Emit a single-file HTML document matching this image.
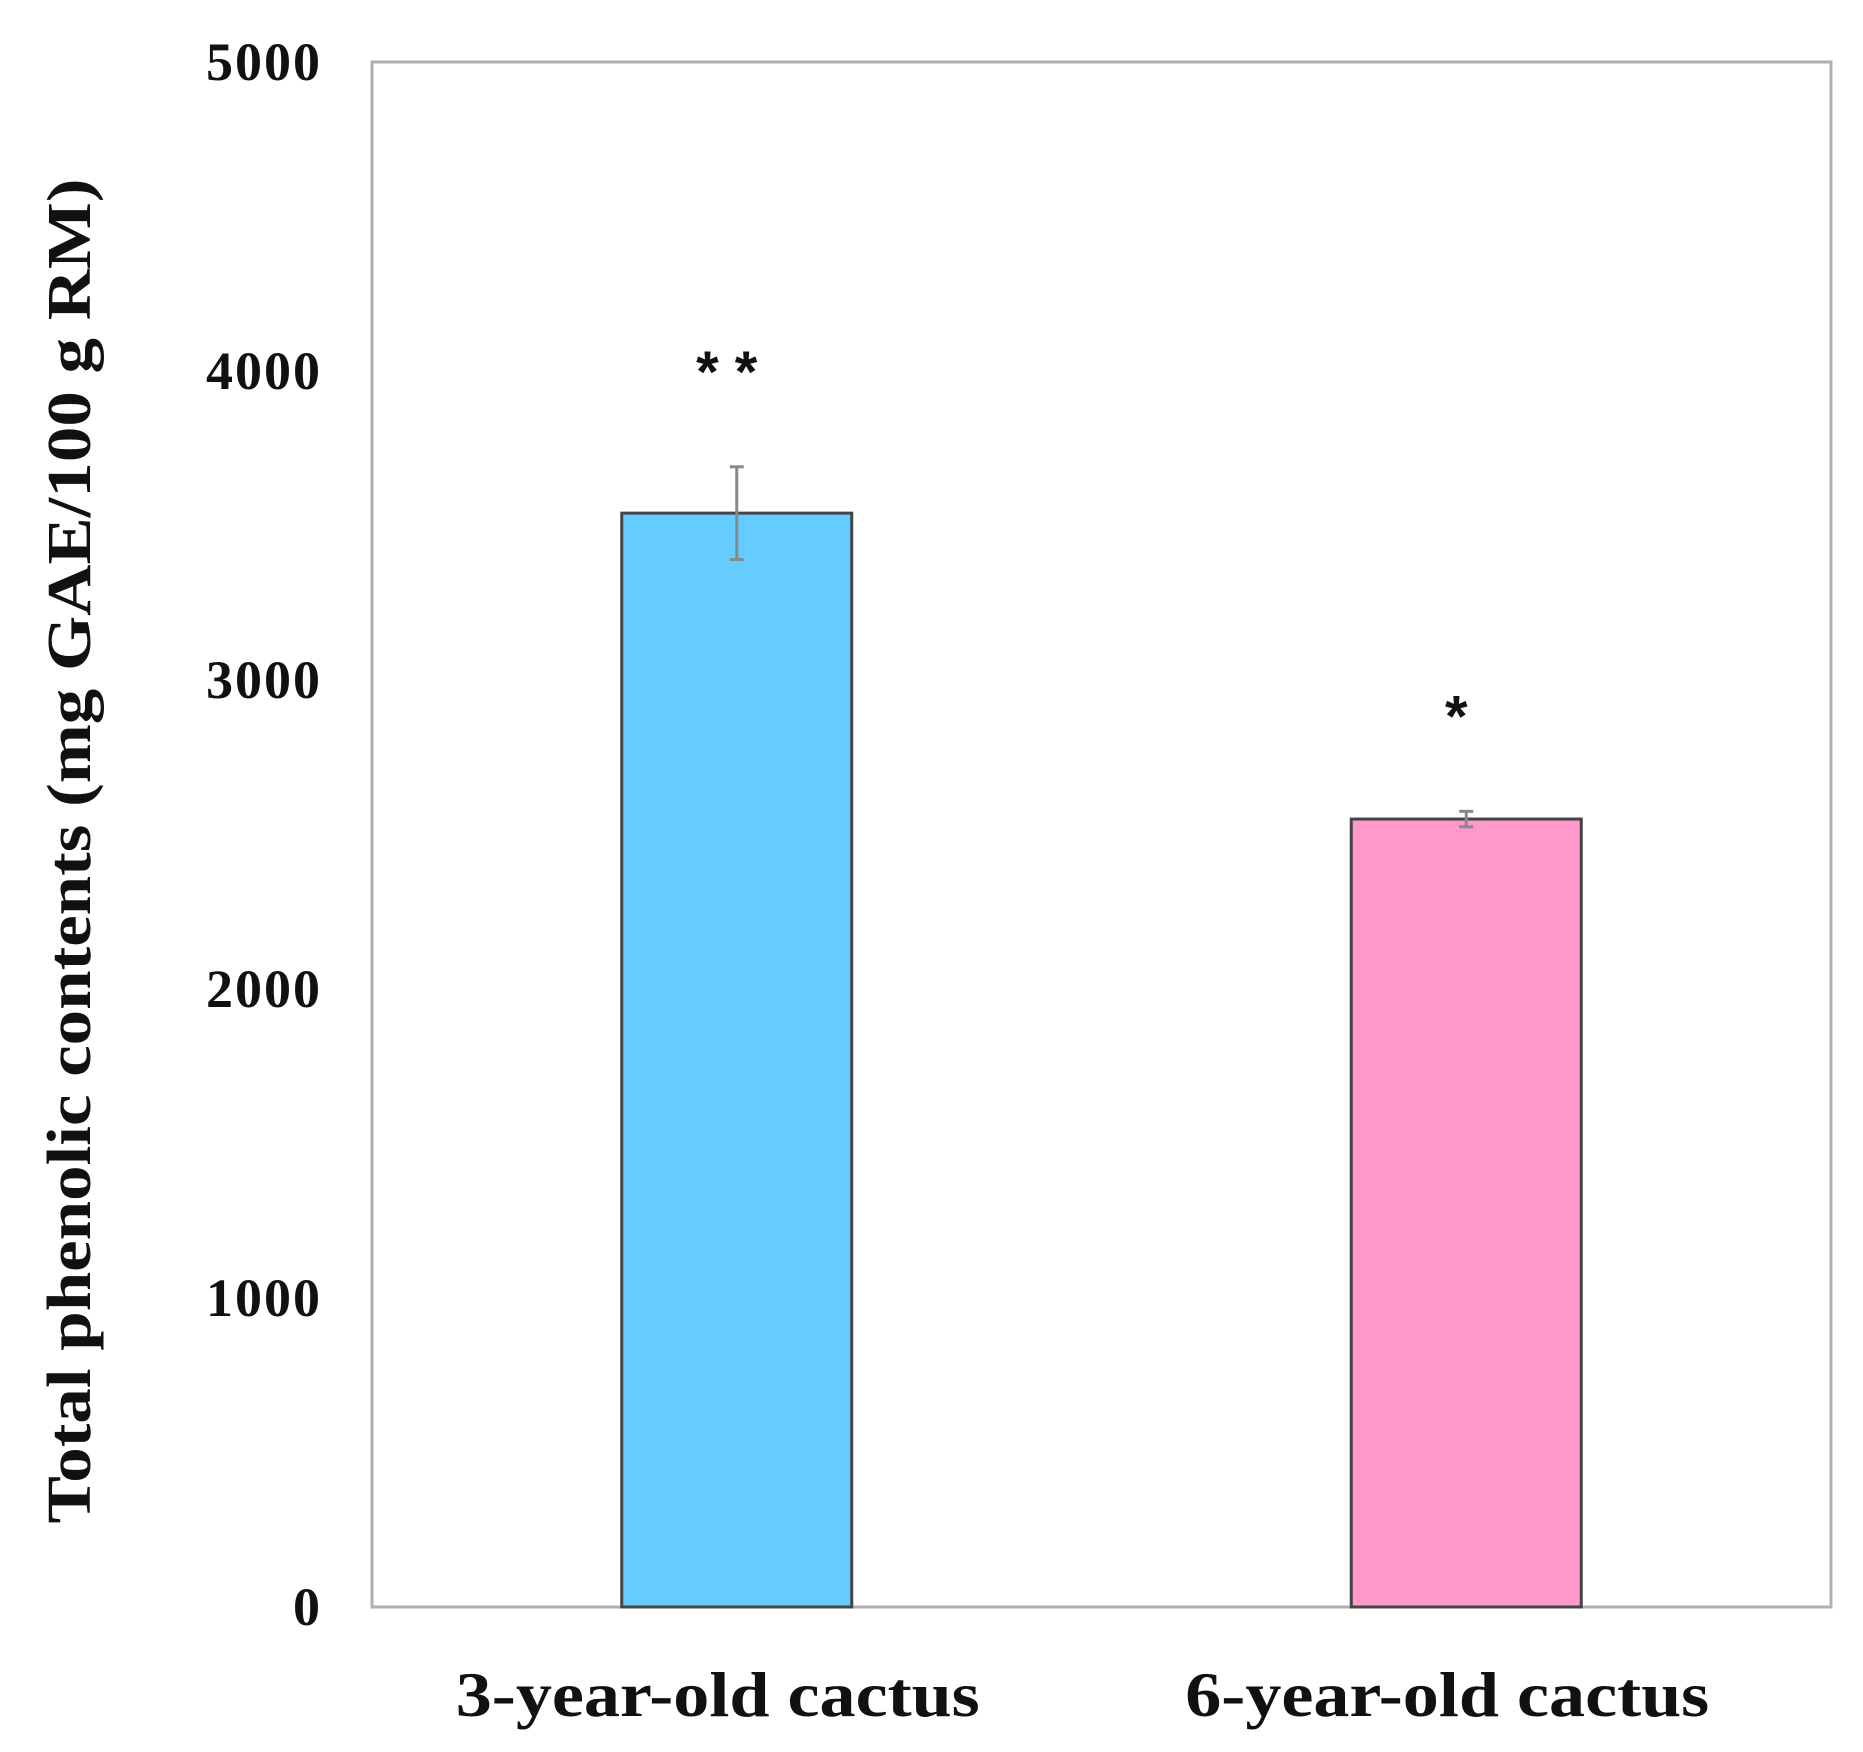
<!DOCTYPE html>
<html><head><meta charset="utf-8"><style>
html,body{margin:0;padding:0;background:#fff;}
svg{display:block;font-family:"Liberation Serif",serif;font-weight:bold;}
</style></head><body>
<svg id="chart" width="1863" height="1752" xmlns="http://www.w3.org/2000/svg">
<rect x="372" y="62" width="1459" height="1545" fill="#fff" stroke="#b0b0b0" stroke-width="3"/>
<g id="yticks"></g>
<g id="bars"></g>
<text x="90" y="851" text-anchor="middle" font-size="62" textLength="1345" lengthAdjust="spacingAndGlyphs" transform="rotate(-90 90 851)" fill="#111">Total phenolic contents (mg GAE/100 g RM)</text>
</svg>
<script>
const categories = ["3-year-old cactus", "6-year-old cactus"];
const values = [3540, 2550];
const errors = [150, 25];
const sigLabels = ["* *", "*"];
const yTicks = [0, 1000, 2000, 3000, 4000, 5000];
const colors = ["#66ccff", "#ff99cc"];

const NS = "http://www.w3.org/2000/svg";
const x0 = 372, x1 = 1831, y0 = 1607, y1 = 62, yMax = 5000;
const y = v => y0 - (v / yMax) * (y0 - y1);
const band = (x1 - x0) / categories.length;
const xc = i => x0 + band * (i + 0.5);
const bw = 230;
function mk(tag, attrs, parent) {
  const e = document.createElementNS(NS, tag);
  for (const k in attrs) e.setAttribute(k, attrs[k]);
  parent.appendChild(e);
  return e;
}
const yt = document.getElementById("yticks");
yTicks.forEach(t => {
  const el = mk("text", {x: 322, y: y(t) + 18, "text-anchor": "end", "font-size": "54", fill: "#111", "letter-spacing": "2"}, yt);
  el.textContent = t;
  
  
});
const g = document.getElementById("bars");
categories.forEach((c, i) => {
  const cx = xc(i);
  const r = mk("rect", {x: cx - bw / 2, y: y(values[i]), width: bw, height: y0 - y(values[i]), fill: colors[i], stroke: "#444", "stroke-width": 3}, g);
  
  
  const eb = mk("g", {stroke: "#888", "stroke-width": 3}, g);
  
  
  const et = y(values[i] + errors[i]), ebm = y(values[i] - errors[i]);
  mk("line", {x1: cx, x2: cx, y1: et, y2: ebm}, eb);
  mk("line", {x1: cx - 7, x2: cx + 7, y1: et, y2: et}, eb);
  mk("line", {x1: cx - 7, x2: cx + 7, y1: ebm, y2: ebm}, eb);
  const s = mk("text", {x: cx - 10, y: y(values[i] + errors[i]) - 75, "text-anchor": "middle", "font-size": "58", "font-family": "Liberation Sans, sans-serif", fill: "#111"}, g);
  s.textContent = sigLabels[i];
  
  
  const l = mk("text", {x: cx - 19, y: 1716, "text-anchor": "middle", "font-size": "64", fill: "#111", textLength: "524", lengthAdjust: "spacingAndGlyphs"}, g);
  l.textContent = c;
  
  
});
</script>
</body></html>
